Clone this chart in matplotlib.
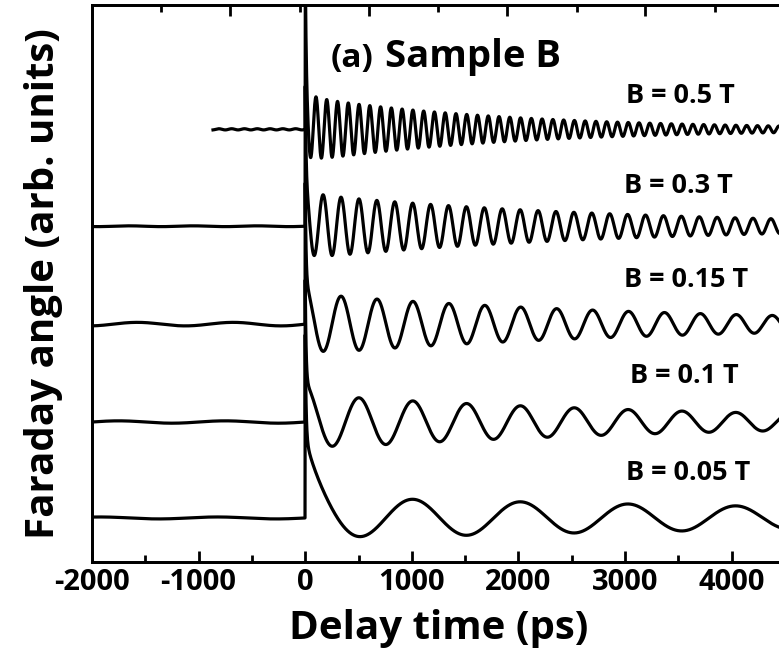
"""Time-resolved Faraday rotation traces, sample B, for several magnetic fields."""

import matplotlib
matplotlib.use("Agg")
import matplotlib.pyplot as plt
import numpy as np

plt.rcParams.update({
    "font.family": ["Open Sans", "DejaVu Sans"],
    "font.weight": "bold",
    "axes.unicode_minus": False,
    "axes.linewidth": 2.0,
    "xtick.major.width": 2.0,
    "xtick.minor.width": 2.0,
})

# traces (y in arb. units, 1 unit = trace spacing)
FIELD_LABELS = ["B = 0.5 T", "B = 0.3 T", "B = 0.15 T", "B = 0.1 T", "B = 0.05 T"]
OFFSETS = [3.97, 2.98, 1.98, 0.98, 0.0]
START_PS = [-865, -2000, -2000, -2000, -2000]
PERIOD_PS = [101, 168, 337, 505, 1010]
OSC_AMP = [0.33, 0.33, 0.31, 0.28, 0.22]
T2_PS = [1950, 3000, 3500, 3850, 7000]
SPIKE_AMP = [1.45, 1.05, 1.05, 1.05, 1.05]
SPIKE_TAU_PS = [8, 8, 8, 8, 8]
BG_AMP = [0.05, 0.05, 0.08, 0.12, 0.6]
BG_TAU_PS = [100, 100, 110, 120, 135]
RIPPLE_AMP = [0.006, 0.004, 0.018, 0.012, 0.01]
RIPPLE_PERIOD_PS = [120, 600, 900, 1000, 1100]

X_MAJOR = [-2000, -1000, 0, 1000, 2000, 3000, 4000]
X_MINOR = [-1500, -500, 500, 1500, 2500, 3500]
TOP_MAJOR = [-704, 600, 1895, 3189]
TOP_MINOR = [-1351, -47, 1248, 2552, 3846]

T_END = 4500
DT = 2


def trace(i):
    t = np.arange(START_PS[i], T_END + DT, DT, dtype=float)
    y = RIPPLE_AMP[i] * np.sin(2 * np.pi * t / RIPPLE_PERIOD_PS[i])
    pos = t >= 0
    tp = t[pos]
    y[pos] = (SPIKE_AMP[i] * np.exp(-tp / SPIKE_TAU_PS[i])
              + BG_AMP[i] * np.exp(-tp / BG_TAU_PS[i])
              + OSC_AMP[i] * np.exp(-tp / T2_PS[i])
              * np.cos(2 * np.pi * tp / PERIOD_PS[i]))
    return t, y + OFFSETS[i]


fig = plt.figure(figsize=(7.79, 6.60), dpi=100)
ax = fig.add_axes([92 / 779, 98 / 660, 693 / 779, 557 / 660])

for i in range(len(FIELD_LABELS)):
    t, y = trace(i)
    ax.plot(t, y, color="black", linewidth=2.3, solid_joinstyle="round")

# label anchors: (x in ps, baseline y in trace units)
label_pos = [(3520, 4.235), (3500, 3.316), (3570, 2.357), (3560, 1.378), (3590, 0.388)]
for (xp, yp), lab in zip(label_pos, FIELD_LABELS):
    ax.text(xp, yp, lab, fontsize=19.5, fontweight="bold",
            ha="center", va="baseline")

ax.text(234, 4.61, "(a)", fontsize=24, fontweight="bold",
        ha="left", va="baseline")
ax.text(750, 4.61, "Sample B", fontsize=27.5, fontweight="bold",
        ha="left", va="baseline")

ax.set_xlim(-2000, 4500)
ax.set_ylim(-0.45, 5.24)
ax.set_xticks(X_MAJOR)
ax.set_xticks(X_MINOR, minor=True)
ax.set_yticks([])
ax.tick_params(axis="x", which="major", direction="in", length=8,
               labelsize=21, pad=4)
ax.tick_params(axis="x", which="minor", direction="in", length=5)
for lab in ax.get_xticklabels():
    lab.set_fontweight("bold")
ax.spines["right"].set_visible(False)

ax2 = ax.twiny()
ax2.set_xlim(ax.get_xlim())
ax2.set_xticks(TOP_MAJOR)
ax2.set_xticks(TOP_MINOR, minor=True)
ax2.tick_params(axis="x", which="major", direction="in", length=8,
                labeltop=False)
ax2.tick_params(axis="x", which="minor", direction="in", length=5)
ax2.spines["right"].set_visible(False)

ax.set_xlabel("Delay time (ps)", fontsize=29, fontweight="bold", labelpad=9)
ax.set_ylabel("Faraday angle (arb. units)", fontsize=29, fontweight="bold",
              labelpad=21)

fig.savefig("out.png", dpi=100)
